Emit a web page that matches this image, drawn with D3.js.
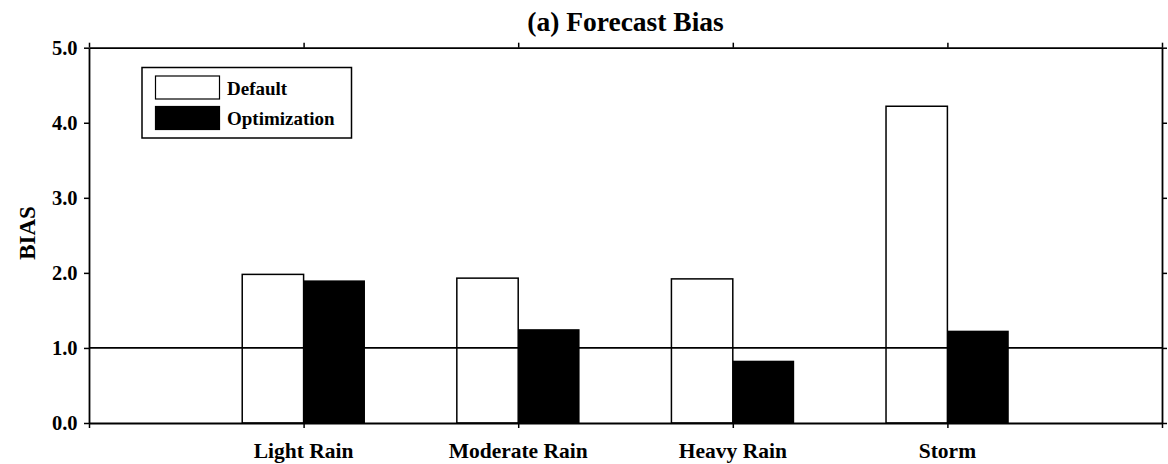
<!DOCTYPE html>
<html>
<head>
<meta charset="utf-8">
<script src="https://cdn.jsdelivr.net/npm/d3@7"></script>
<style>
  html, body { margin: 0; padding: 0; background: #fff; }
  svg { display: block; }
  text { font-family: "Liberation Serif", "Times New Roman", serif; font-weight: bold; fill: #000; }
</style>
</head>
<body>
<svg id="chart" width="1168" height="464"></svg>
<script>
// Forecast bias per rain category, default vs optimized parameters
const categories = ["Light Rain", "Moderate Rain", "Heavy Rain", "Storm"];
const seriesNames = ["Default", "Optimization"];
const defaultValues = [1.98, 1.93, 1.92, 4.22];
const optimizationValues = [1.90, 1.25, 0.83, 1.23];
const yTickValues = [0, 1, 2, 3, 4, 5];
const referenceLevel = 1.0;

const svg = d3.select("#chart");
const plotLeft = 89, plotRight = 1162, plotTop = 47.7, plotBottom = 423;

// categories sit at positions 1..4 on a 0..5 axis
const x = d3.scaleLinear().domain([0, categories.length + 1]).range([plotLeft, plotRight]);
const y = d3.scaleLinear().domain([0, 5]).range([plotBottom, plotTop]);
const barW = 0.286; // in axis units

const tickPos = d3.range(0, categories.length + 2);

// bars
const g = svg.append("g");
categories.forEach((c, i) => {
  const cx = i + 1;
  g.append("rect")
    .attr("x", x(cx - barW)).attr("width", x(cx) - x(cx - barW))
    .attr("y", y(defaultValues[i])).attr("height", y(0) - y(defaultValues[i]))
    .attr("fill", "#fff").attr("stroke", "#000").attr("stroke-width", 1.5);
  g.append("rect")
    .attr("x", x(cx)).attr("width", x(cx + barW) - x(cx))
    .attr("y", y(optimizationValues[i])).attr("height", y(0) - y(optimizationValues[i]))
    .attr("fill", "#000");
});

// reference line at bias = 1
svg.append("line")
  .attr("x1", x(0)).attr("x2", x(5))
  .attr("y1", y(referenceLevel)).attr("y2", y(referenceLevel))
  .attr("stroke", "#000").attr("stroke-width", 1.8);

// axes on all four sides
const axStyle = sel => {
  sel.selectAll(".domain").attr("stroke", "#000").attr("stroke-width", 1.8);
  sel.selectAll(".tick line").attr("stroke", "#000").attr("stroke-width", 1.5);
};

svg.append("g").attr("transform", `translate(0,${plotBottom})`)
  .call(d3.axisBottom(x).tickValues(tickPos).tickSize(5).tickSizeOuter(0).tickFormat(""))
  .call(axStyle);
svg.append("g").attr("transform", `translate(0,${plotTop})`)
  .call(d3.axisTop(x).tickValues(tickPos).tickSize(5).tickSizeOuter(0).tickFormat(""))
  .call(axStyle);
svg.append("g").attr("transform", `translate(${plotLeft},0)`)
  .call(d3.axisLeft(y).tickValues(yTickValues).tickSize(5).tickSizeOuter(0).tickFormat(""))
  .call(axStyle);
svg.append("g").attr("transform", `translate(${plotRight},0)`)
  .call(d3.axisRight(y).tickValues(yTickValues).tickSize(5).tickSizeOuter(0).tickFormat(""))
  .call(axStyle);

// y tick labels
svg.append("g").selectAll("text").data(yTickValues).join("text")
  .attr("x", plotLeft - 11.5).attr("y", d => y(d) + 7)
  .attr("text-anchor", "end").style("font-size", "20.5px")
  .text(d => d3.format(".1f")(d));

// category labels
svg.append("g").selectAll("text").data(categories).join("text")
  .attr("x", (d, i) => x(i + 1)).attr("y", 458)
  .attr("text-anchor", "middle").style("font-size", "21.5px")
  .text(d => d);

// y axis title
svg.append("text")
  .attr("transform", "translate(35,233) rotate(-90)")
  .attr("text-anchor", "middle").style("font-size", "23px")
  .text("BIAS");

// chart title
svg.append("text")
  .attr("x", (plotLeft + plotRight) / 2).attr("y", 31)
  .attr("text-anchor", "middle").style("font-size", "27.5px")
  .text("(a) Forecast Bias");

// legend
const lg = svg.append("g");
lg.append("rect").attr("x", 142).attr("y", 67.5).attr("width", 209.5).attr("height", 70.5)
  .attr("fill", "#fff").attr("stroke", "#000").attr("stroke-width", 1.5);
const swatchFill = ["#fff", "#000"];
const swatchY = [76, 106.5];
seriesNames.forEach((name, i) => {
  lg.append("rect").attr("x", 155.5).attr("y", swatchY[i]).attr("width", 64).attr("height", 23)
    .attr("fill", swatchFill[i]).attr("stroke", "#000").attr("stroke-width", 1.2);
  lg.append("text").attr("x", 227).attr("y", swatchY[i] + 18.5)
    .style("font-size", "19px").text(name);
});
</script>
</body>
</html>
